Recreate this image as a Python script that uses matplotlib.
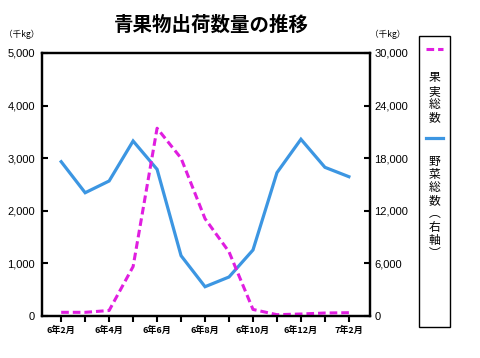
import matplotlib; matplotlib.use("Agg")
import matplotlib.pyplot as plt
from matplotlib.lines import Line2D
from matplotlib.patches import Rectangle

plt.rcParams['font.family'] = ['Liberation Sans', 'Noto Sans CJK JP']
JP = ['Noto Sans CJK JP', 'DejaVu Sans']

# ---- data ----
months = ["6年2月", "6年3月", "6年4月", "6年5月", "6年6月", "6年7月", "6年8月",
          "6年9月", "6年10月", "6年11月", "6年12月", "7年1月", "7年2月"]
fruit = [70, 70, 105, 940, 3570, 3000, 1850, 1220, 125, 25, 38, 57, 63]          # 千kg, left
veg = [17600, 14060, 15400, 19960, 16730, 6880, 3340, 4450, 7530, 16350,
       20160, 16960, 15890]                                                     # 千kg, right
left_ticks = [0, 1000, 2000, 3000, 4000, 5000]
right_ticks = [0, 6000, 12000, 18000, 24000, 30000]

MAG = "#e01ee0"
BLUE = "#3c96e2"

fig = plt.figure(figsize=(4.8, 3.58), dpi=100)
ax = fig.add_axes([0.0875, 0.1173, 0.6833, 0.7347])
ax2 = ax.twinx()
ax.set_zorder(ax2.get_zorder() + 1)
ax.patch.set_visible(False)

x = list(range(len(months)))
ax2.plot(x, veg, color=BLUE, lw=2.3, solid_joinstyle="miter")
ax.plot(x, fruit, color=MAG, lw=2.2, dashes=(2.5, 1.3))

ax.set_xlim(-0.8, 12.88)
ax.set_ylim(0, 5000)
ax2.set_ylim(0, 30000)
ax.set_yticks(left_ticks)
ax.set_yticklabels([f"{v:,}" for v in left_ticks], fontsize=8)
ax2.set_yticks(right_ticks)
ax2.set_yticklabels([f"{v:,}" for v in right_ticks], fontsize=8)
ax.set_xticks(x)
ax.set_xticklabels([m if i % 2 == 0 else "" for i, m in enumerate(months)],
                   fontsize=6.5, family=JP, fontweight="bold")

for a in (ax, ax2):
    for s in a.spines.values():
        s.set_linewidth(1.6)
ax.tick_params(axis="y", direction="in", length=4, width=1.5, pad=5)
ax2.tick_params(axis="y", direction="in", length=4, width=1.5, pad=3)
ax.tick_params(axis="x", direction="out", length=4, width=1.5, pad=3)

fig.text(0.44, 0.93, "青果物出荷数量の推移", family=JP, fontsize=14,
         fontweight="bold", ha="center", va="center")
fig.text(0.008, 0.905, "（千kg）", family=JP, fontsize=6.2, ha="left", va="center")
fig.text(0.77, 0.905, "（千kg）", family=JP, fontsize=6.2, ha="left", va="center")

# ---- vertical legend ----
fig.add_artist(Rectangle((0.873, 0.0866), 0.0646, 0.813, transform=fig.transFigure,
                         fill=False, lw=1.0, ec="black"))
cx = 0.873 + 0.0646 / 2
fig.add_artist(Line2D([cx - 0.018, cx + 0.018], [1 - 49 / 358] * 2, transform=fig.transFigure,
                      color=MAG, lw=2.2, dashes=(2.5, 1.3)))
fig.add_artist(Line2D([cx - 0.018, cx + 0.018], [1 - 138 / 358] * 2, transform=fig.transFigure,
                      color=BLUE, lw=2.3))
for start, label in ((78, "果実総数"), (161, "野菜総数︵右軸︶")):
    for i, ch in enumerate(label):
        fig.text(cx, 1 - (start + i * 13.2) / 358, ch, family=JP, fontsize=8.5,
                 ha="center", va="center")

fig.savefig("out.png", dpi=100)
